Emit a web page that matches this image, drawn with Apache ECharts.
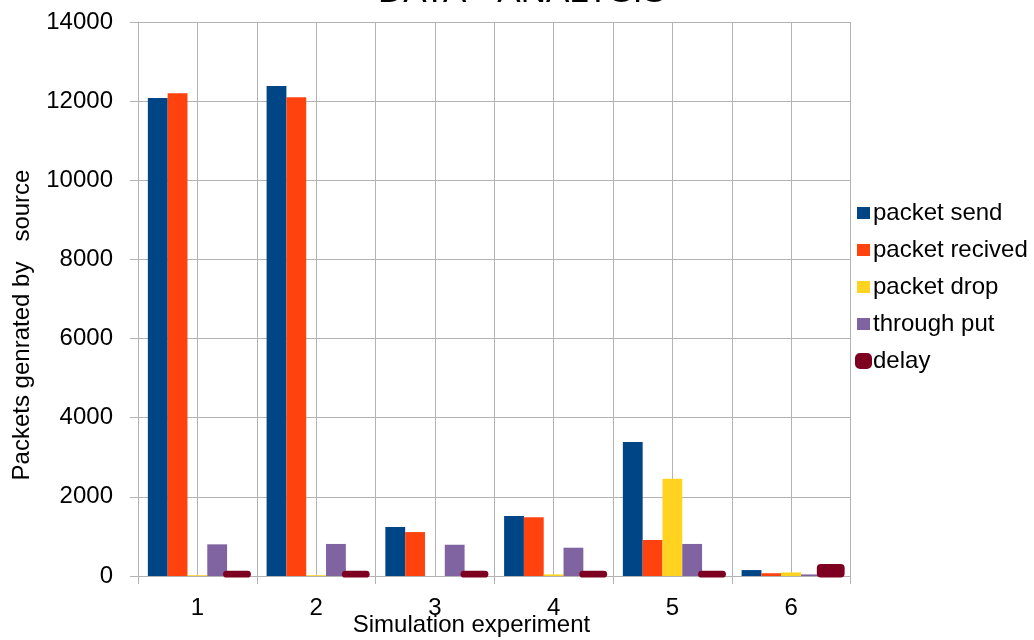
<!DOCTYPE html>
<html>
<head>
<meta charset="utf-8">
<script src="https://cdn.jsdelivr.net/npm/echarts@6/dist/echarts.min.js"></script>
<style>
html,body{margin:0;padding:0;background:#fff;}
#c{width:1034px;height:640px;}
</style>
</head>
<body>
<div id="c"></div>
<script>
var categories = ['1', '2', '3', '4', '5', '6'];
var halfTicks = ['a','b','c','d','e','f','g','h','i','j','k','l'];
var yTicks = [0, 2000, 4000, 6000, 8000, 10000, 12000, 14000];
var seriesNames = ['packet send', 'packet recived', 'packet drop', 'through put', 'delay'];
var packetSend = [12080, 12380, 1240, 1515, 3385, 150];
var packetRecived = [12200, 12100, 1110, 1485, 910, 70];
var packetDrop = [20, 20, 0, 40, 2455, 90];
var throughPut = [800, 810, 790, 715, 810, 40];
var delay = [30, 30, 30, 30, 30, 200];

var colors = ['#004586', '#ff420e', '#ffd320', '#8064a2', '#7e0021'];
var FONT = 'Liberation Sans';
var GRID = '#b3b3b3';
var CAT_GAP = 0.166;
var N_SLOTS = 5;

var chart = echarts.init(document.getElementById('c'));

function barSeries(name, color, data) {
  return {
    name: name,
    type: 'bar',
    data: data,
    barGap: '0%',
    barCategoryGap: (CAT_GAP * 100) + '%',
    itemStyle: { color: color }
  };
}

// placeholder slot so the bar layout keeps five bars per category
var delaySlot = barSeries('_delaySlot', colors[4], delay);
delaySlot.itemStyle = { opacity: 0 };
delaySlot.silent = true;

var delaySeries = {
  name: seriesNames[4],
  type: 'custom',
  itemStyle: { color: colors[4] },
  data: delay.map(function (v, i) { return [i, v]; }),
  clip: false,
  z: 3,
  renderItem: function (params, api) {
    var ci = api.value(0), v = api.value(1);
    var top = api.coord([ci, v]);
    var base = api.coord([ci, 0]);
    var band = api.size([1, 0])[0];
    var bw = band * (1 - CAT_GAP) / N_SLOTS;
    var cx = top[0] + 2 * bw;
    var w = bw + 8;
    var y0 = top[1] - 4;
    return {
      type: 'rect',
      shape: { x: cx - w / 2, y: y0, width: w, height: base[1] + 1.5 - y0, r: 4 },
      style: { fill: colors[4] }
    };
  }
};

chart.setOption({
  animation: false,
  textStyle: { fontFamily: FONT },
  grid: { left: 138, right: 183.5, top: 22, bottom: 64 },
  legend: {
    orient: 'vertical',
    left: 855,
    top: 201,
    padding: 0,
    itemWidth: 13,
    itemHeight: 12,
    itemGap: 13,
    textStyle: { fontFamily: FONT, fontSize: 24, color: '#000', lineHeight: 24, padding: [0, 0, 0, -2] },
    data: [
      { name: seriesNames[0], icon: 'rect' },
      { name: seriesNames[1], icon: 'rect' },
      { name: seriesNames[2], icon: 'rect' },
      { name: seriesNames[3], icon: 'rect' },
      { name: seriesNames[4], icon: 'roundRect', itemStyle: { color: colors[4], borderWidth: 4, borderColor: colors[4] } }
    ]
  },
  xAxis: [
    {
      type: 'category',
      data: categories,
      axisLine: { show: true, lineStyle: { color: GRID, width: 1 } },
      axisTick: { show: true, length: 8, lineStyle: { color: GRID } },
      axisLabel: { fontFamily: FONT, fontSize: 24, color: '#000', margin: 20 },
      splitLine: { show: false }
    },
    {
      type: 'category',
      data: halfTicks,
      position: 'bottom',
      axisLine: { show: false },
      axisTick: { show: false },
      axisLabel: { show: false },
      splitLine: { show: true, lineStyle: { color: GRID, width: 1 } }
    }
  ],
  yAxis: {
    type: 'value',
    min: yTicks[0],
    max: yTicks[yTicks.length - 1],
    interval: 2000,
    axisLine: { show: true, lineStyle: { color: GRID, width: 1 } },
    axisTick: { show: true, length: 8, lineStyle: { color: GRID } },
    axisLabel: { fontFamily: FONT, fontSize: 24, color: '#000', margin: 25, formatter: function (v) { return String(v); } },
    splitLine: { show: true, lineStyle: { color: GRID, width: 1 } }
  },
  graphic: [
    {
      type: 'text', x: 522, y: -8,
      style: { text: 'DATA - ANALYSIS', font: '35px "Liberation Sans"', fill: '#000', textAlign: 'center', textVerticalAlign: 'middle' }
    },
    {
      type: 'text', x: 22, y: 325, rotation: Math.PI / 2,
      style: { text: 'Packets genrated by   source', font: '24px "Liberation Sans"', fill: '#000', textAlign: 'center', textVerticalAlign: 'middle' }
    },
    {
      type: 'text', x: 471.5, y: 625,
      style: { text: 'Simulation experiment', font: '24px "Liberation Sans"', fill: '#000', textAlign: 'center', textVerticalAlign: 'middle' }
    }
  ],
  series: [
    barSeries(seriesNames[0], colors[0], packetSend),
    barSeries(seriesNames[1], colors[1], packetRecived),
    barSeries(seriesNames[2], colors[2], packetDrop),
    barSeries(seriesNames[3], colors[3], throughPut),
    delaySlot,
    delaySeries
  ]
});
</script>
</body>
</html>
